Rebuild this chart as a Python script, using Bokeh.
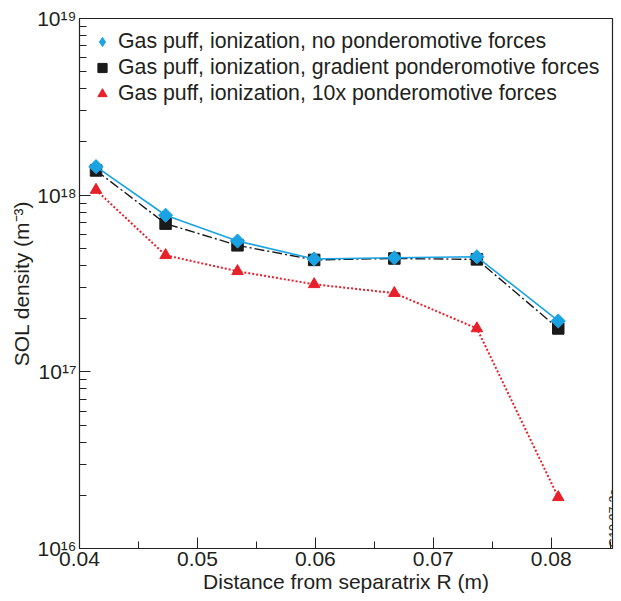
from bokeh.plotting import figure
from bokeh.models import (SingleIntervalTicker, LogTicker, Legend, LegendItem, Label)
from bokeh.embed import file_html
from bokeh.resources import INLINE
import math

# ---- data ----
r = [0.0414, 0.0473, 0.0534, 0.0599, 0.0667, 0.0737, 0.0806]
no_pond = [1.45e18, 7.7e17, 5.5e17, 4.35e17, 4.42e17, 4.48e17, 1.94e17]
grad_pond = [1.38e18, 6.9e17, 5.2e17, 4.30e17, 4.38e17, 4.33e17, 1.76e17]
pond_10x = [1.07e18, 4.57e17, 3.71e17, 3.13e17, 2.79e17, 1.76e17, 1.95e16]

labels = ["Gas puff, ionization, no ponderomotive forces",
          "Gas puff, ionization, gradient ponderomotive forces",
          "Gas puff, ionization, 10x ponderomotive forces"]
x_ticks = [0.04, 0.05, 0.06, 0.07, 0.08]
y_ticks = [1e16, 1e17, 1e18, 1e19]
y_tick_labels = ["10\u00b9\u2076", "10\u00b9\u2077", "10\u00b9\u2078", "10\u00b9\u2079"]
watermark = "JG10.87-3c"

FONT = "Liberation Sans"
TXT = "#231f20"
BLUE = "#19a3e3"
RED = "#e8202a"
BLACK = "#1a1a1a"
NAN = [float("nan")]

p = figure(frame_width=533, frame_height=530, x_range=(0.04, 0.0852), y_range=(1e16, 1e19),
           y_axis_type="log", output_backend="svg", toolbar_location=None,
           min_border_left=79, min_border_right=9, min_border_top=18, min_border_bottom=52)
p.background_fill_color = "white"
p.border_fill_color = "white"
p.outline_line_color = "#222222"
p.outline_line_width = 1.2
p.xgrid.visible = False
p.ygrid.visible = False

# red (10x)
p.line(r, pond_10x, line_color=RED, line_width=2, line_dash="2 2")
red_r = p.scatter(r, pond_10x, marker="triangle", size=11.5, fill_color=RED, line_color=RED)
# black (gradient)
p.line(r, grad_pond, line_color=BLACK, line_width=1.4, line_dash="10 3 2 3")
blk_r = p.scatter(r, grad_pond, marker="square", size=11.5, fill_color=BLACK, line_color=BLACK)
# blue (none)
p.line(r, no_pond, line_color=BLUE, line_width=1.6)
p.scatter(r, no_pond, marker="square", size=10, angle=math.pi / 4,
          fill_color=BLUE, line_color=BLUE)
# legend-only diamond (no data drawn)
blue_leg = p.scatter(NAN, NAN, marker="diamond", fill_color=BLUE, line_color=BLUE)

# axes
xa = p.xaxis[0]
xa.ticker = SingleIntervalTicker(interval=0.01, num_minor_ticks=2)
xa.axis_label = "Distance from separatrix R (m)"
ya = p.yaxis[0]
ya.ticker = LogTicker(num_minor_ticks=10)
ya.major_label_overrides = {v: s for v, s in zip(y_ticks, y_tick_labels)}
ya.axis_label = "SOL density (m\u207b\u00b3)"
for ax in (xa, ya):
    ax.major_tick_in = 11
    ax.major_tick_out = 0
    ax.minor_tick_in = 7
    ax.minor_tick_out = 0
    ax.axis_line_color = "#222222"
    ax.major_tick_line_color = "#222222"
    ax.minor_tick_line_color = "#222222"
    ax.major_label_text_font = FONT
    ax.major_label_text_font_size = "21px"
    ax.major_label_text_color = TXT
    ax.axis_label_text_font = FONT
    ax.axis_label_text_font_size = "21px"
    ax.axis_label_text_font_style = "normal"
    ax.axis_label_text_color = TXT
xa.major_label_standoff = 3
xa.axis_label_standoff = 1
ya.major_label_standoff = 3
ya.axis_label_standoff = 1

legend = Legend(items=[LegendItem(label=labels[0], renderers=[blue_leg]),
                       LegendItem(label=labels[1], renderers=[blk_r]),
                       LegendItem(label=labels[2], renderers=[red_r])],
                location="top_left")
legend.background_fill_alpha = 0
legend.border_line_alpha = 0
legend.label_text_font = FONT
legend.label_text_font_size = "21.3px"
legend.label_text_color = TXT
legend.glyph_width = 24
legend.glyph_height = 23
legend.label_height = 23
legend.spacing = 1
legend.padding = 3
legend.margin = 8
legend.label_standoff = 4
p.add_layout(legend)

p.add_layout(Label(x=534.5, y=27, x_units="screen", y_units="screen", text=watermark,
                   angle=math.pi / 2, text_align="center", text_baseline="middle",
                   text_font=FONT, text_font_size="12.5px", text_color=TXT))

open("out.html", "w").write(file_html(p, INLINE))
